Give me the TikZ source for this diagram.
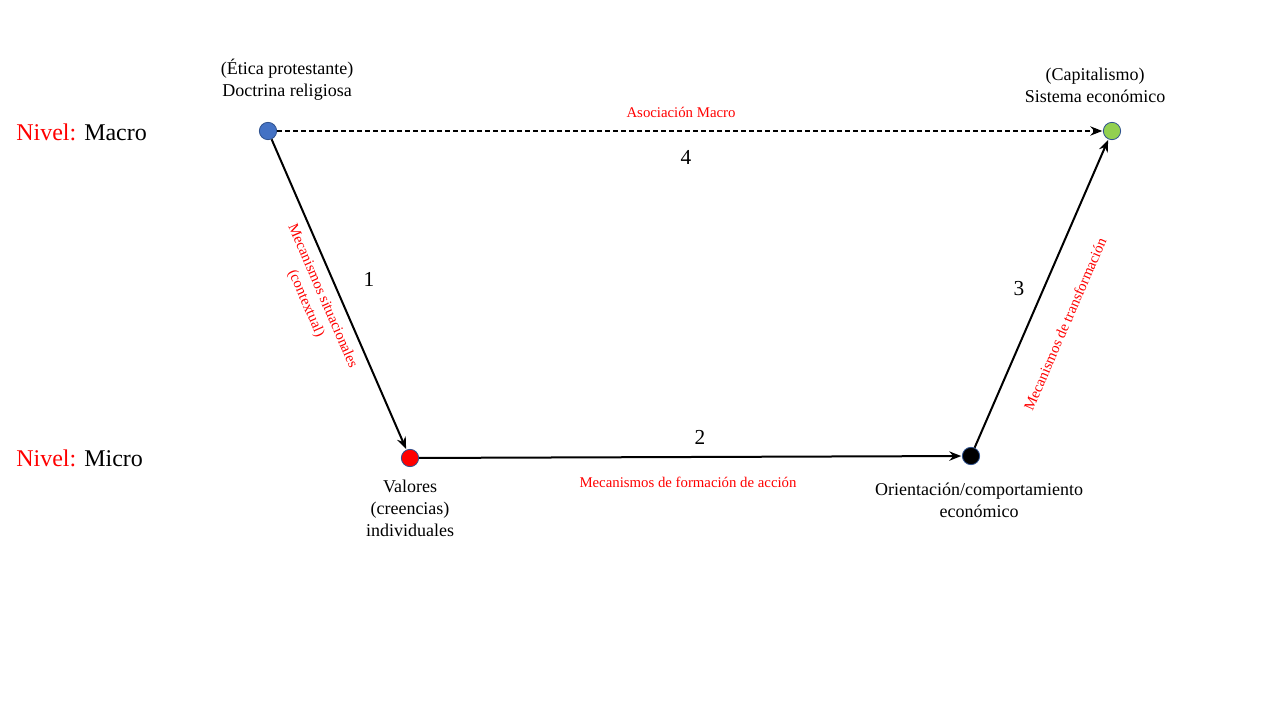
\documentclass[tikz,border=0pt]{standalone}
\usepackage{fontspec}
\setmainfont{Liberation Serif}
\usetikzlibrary{arrows.meta}
\definecolor{nblue}{HTML}{4472C4}
\definecolor{ngreen}{HTML}{92D050}
\definecolor{nedge}{HTML}{2F528F}
\tikzset{
  dot/.style={circle, draw=nedge, line width=0.6pt, minimum size=13pt, inner sep=0pt},
  conn/.style={line width=1.5pt, -{Stealth[length=9pt,width=7pt,inset=3pt]}, shorten >=0.5pt},
  lbl/.style={font=\fontsize{13.5}{16.5}\selectfont, align=center, inner sep=0pt},
  red lbl/.style={font=\fontsize{11.1}{13.5}\selectfont, text=red, align=center, inner sep=0pt},
  num/.style={font=\fontsize{16}{19}\selectfont, inner sep=0pt},
  level/.style={font=\fontsize{18}{21}\selectfont, anchor=west, inner sep=0pt}
}
\begin{document}
\begin{tikzpicture}[x=0.75pt, y=-0.75pt]
\path[use as bounding box, fill=white] (0,0) rectangle (1280,720);

\node[dot, fill=nblue] (doc) at (268,131) {};
\node[dot, fill=ngreen] (sis) at (1112,131) {};
\node[dot, fill=red] (val) at (410,458) {};
\node[dot, fill=black] (ori) at (971,456) {};

\node[level] (nmacro) at (16,132) {\textcolor{red}{Nivel:} Macro};
\node[level] (nmicro) at (16,458) {\textcolor{red}{Nivel:} Micro};

\node[lbl] (tdoc) at (287,80) {(Ética protestante)\\Doctrina religiosa};
\node[lbl] (tsis) at (1095,85) {(Capitalismo)\\Sistema económico};
\node[lbl] (tval) at (410,508) {Valores\\(creencias)\\individuales};
\node[lbl] (tori) at (979,500) {Orientación/comportamiento\\económico};

\draw[conn, dashed, dash pattern=on 3.5pt off 2.5pt, line width=1.3pt] (doc) -- (sis);
\draw[conn] (doc) -- (val);
\draw[conn] (val) -- (ori);
\draw[conn] (ori) -- (sis);

\node[red lbl] (l4) at (681,112) {Asociación Macro};
\node[red lbl] (l2) at (688,482) {Mecanismos de formación de acción};
\node[red lbl, rotate=-66.5] (l1) at (314,300) {Mecanismos situacionales\\(contextual)};
\node[red lbl, rotate=66.5] (l3) at (1065,324) {Mecanismos de transformación};

\node[num] (n4) at (686,157) {4};
\node[num] (n1) at (369,279) {1};
\node[num] (n2) at (700,437) {2};
\node[num] (n3) at (1019,289) {3};
\end{tikzpicture}
\end{document}
